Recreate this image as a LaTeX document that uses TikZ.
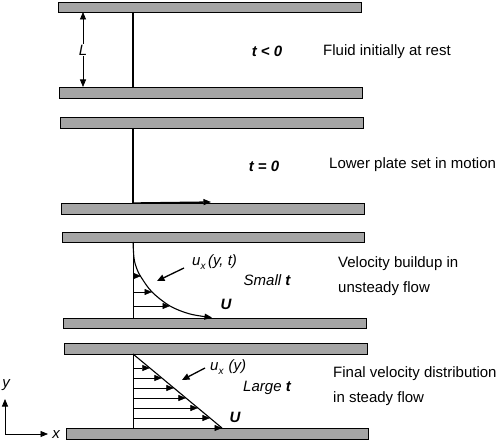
\documentclass[tikz,border=0pt]{standalone}
\usepackage{fontspec}
\setmainfont{Liberation Sans}
\usetikzlibrary{arrows.meta}
\definecolor{platefill}{RGB}{165,165,165}
\begin{document}
\begin{tikzpicture}[x=1pt,y=-1pt,
  plate/.style={draw=black,line width=0.7pt,fill=platefill},
  wall/.style={line width=1.3pt},
  tipp/.style={-{Triangle[length=7.5pt,width=6pt]}},
  prof/.style={line width=0.6pt,tipp},
  curv/.style={line width=1.1pt,tipp},
  pointer/.style={line width=1.3pt,-{Triangle[length=7.5pt,width=6.5pt]}},
  big/.style={font=\fontsize{15}{18}\selectfont,inner sep=0pt},
  captxt/.style={big,anchor=west,align=left,font=\fontsize{15}{25}\selectfont},
]
\useasboundingbox (0,0) rectangle (502,443);

% plates
\path[plate] (58,2) rectangle (361,12);
\path[plate] (59,87) rectangle (362,98);
\path[plate] (60,117) rectangle (363,128);
\path[plate] (61,203) rectangle (364,214);
\path[plate] (62,232) rectangle (364,242);
\path[plate] (63,318) rectangle (366,328);
\path[plate] (64,343) rectangle (367,354);
\path[plate] (66,428) rectangle (368,439);

% panel 1
\coordinate (w1t) at (133,12);
\coordinate (w1b) at (133,87);
\draw[wall] (w1t) -- (w1b);
\coordinate (Lt) at (83,12);
\coordinate (Lb) at (83,87);
\node[big,fill=white,inner sep=1pt,font=\fontsize{15}{18}\selectfont\itshape] (Lnode) at (83,50) {L};
\draw[line width=0.8pt,tipp] (Lnode) -- (Lt);
\draw[line width=0.8pt,tipp] (Lnode) -- (Lb);
\node[big,font=\fontsize{15}{18}\selectfont\bfseries\itshape] (t1) at (267,51) {t < 0};
\node[captxt] (c1) at (323,52) {Fluid initially at rest};

% panel 2
\coordinate (w2t) at (133,128);
\coordinate (w2b) at (133,203);
\draw[wall] (w2t) -- (w2b);
\coordinate (v2) at (211,202);
\draw[wall,tipp] (w2b) -- (v2);
\node[big,font=\fontsize{15}{18}\selectfont\bfseries\itshape] (t2) at (264,166) {t = 0};
\node[captxt] (c2) at (329,165) {Lower plate set in motion};

% panel 3
\coordinate (w3t) at (133,242);
\coordinate (w3b) at (133,318);
\draw[line width=0.8pt] (w3t) -- (w3b);
\draw[curv] plot[smooth,tension=0.55] coordinates {(133,242) (134,258) (136.5,268) (141,277) (152,292) (170,306) (190,314) (212,317.5)};
\foreach \k/\yy/\xx in {1/276/141,2/292/152,3/306/170}{
  \coordinate (p3a\k) at (133,\yy);
  \coordinate (p3b\k) at (\xx,\yy);
  \draw[prof] (p3a\k) -- (p3b\k);
}
\node[big,font=\fontsize{15}{18}\selectfont\itshape,anchor=west] (ux3) at (192,262) {u{\fontsize{10}{10}\selectfont\raisebox{-3.5pt}{x}}\,(y, t)};
\coordinate (q3s) at (184,268);
\coordinate (q3e) at (157,281);
\draw[pointer] (q3s) -- (q3e);
\node[big,font=\fontsize{15}{18}\selectfont\itshape] (s3) at (267,280) {Small \textbf{t}};
\node[big,font=\fontsize{15}{18}\selectfont\bfseries\itshape] (U3) at (226,304) {U};
\node[captxt] (c3) at (338,276.5) {Velocity buildup in\\unsteady flow};

% panel 4
\coordinate (w4t) at (133,354);
\coordinate (w4b) at (133,428);
\draw[line width=0.8pt] (w4t) -- (w4b);
\coordinate (lin4b) at (222,428);
\draw[line width=1.1pt] (w4t) -- (lin4b);
\foreach \k in {0,...,6}{
  \pgfmathsetmacro{\yy}{368+10*\k}
  \pgfmathsetmacro{\xx}{133+(\yy-354)*1.2027}
  \coordinate (p4a\k) at (133,\yy);
  \coordinate (p4b\k) at (\xx,\yy);
  \draw[prof] (p4a\k) -- (p4b\k);
}
\node[big,font=\fontsize{15}{18}\selectfont\itshape,anchor=west] (ux4) at (210,367) {u{\fontsize{10}{10}\selectfont\raisebox{-3.5pt}{x}}\,\,(y)};
\coordinate (q4s) at (205,368);
\coordinate (q4e) at (182,380);
\draw[pointer] (q4s) -- (q4e);
\node[big,font=\fontsize{15}{18}\selectfont\itshape] (s4) at (267,388) {Large \textbf{t}};
\node[big,font=\fontsize{15}{18}\selectfont\bfseries\itshape] (U4) at (235,417) {U};
\node[captxt] (c4) at (333,386.5) {Final velocity distribution\\in steady flow};

% axes
\coordinate (o) at (5,434);
\coordinate (ay) at (5,399);
\coordinate (ax) at (48,434);
\draw[line width=0.8pt,tipp] (o) -- (ay);
\draw[line width=0.8pt,tipp] (o) -- (ax);
\node[big,font=\fontsize{15}{18}\selectfont\itshape] (ylab) at (6,385) {y};
\node[big,font=\fontsize{15}{18}\selectfont\itshape] (xlab) at (56,435) {x};
\end{tikzpicture}
\end{document}
